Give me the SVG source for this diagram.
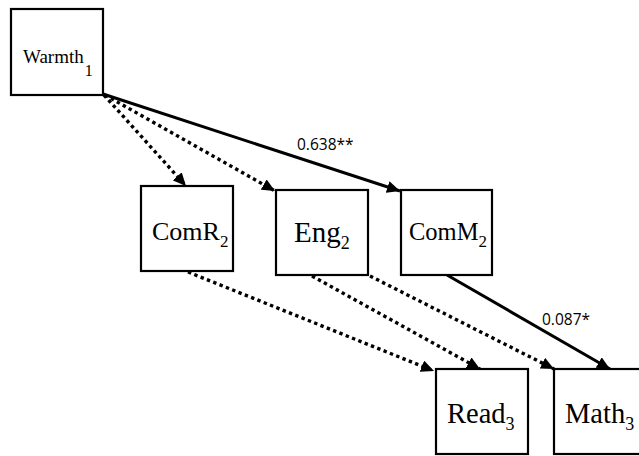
<svg xmlns="http://www.w3.org/2000/svg" width="639" height="456" viewBox="0 0 639 456">
<style>
.box{fill:#fff;stroke:#000;stroke-width:2.2}
.lbl{font-family:"Liberation Serif","Times New Roman",serif;fill:#000}
.num{font-family:"Open Sans","Noto Sans",sans-serif;font-size:15.5px;fill:#000}
.solid{stroke:#000;stroke-width:3;fill:none}
.dot{stroke:#000;stroke-width:3.4;fill:none;stroke-dasharray:3.4 3.4}
</style>
<defs>
<marker id="ah" markerUnits="userSpaceOnUse" markerWidth="13" markerHeight="12" refX="13" refY="6" orient="auto">
<path d="M0,0 L13,6 L0,12 z" fill="#000"/>
</marker>
</defs>
<rect width="639" height="456" fill="#fff"/>
<g id="connectors">
<line class="solid" x1="103" y1="94" x2="400" y2="191" marker-end="url(#ah)"/>
<line class="dot" x1="104" y1="95" x2="186" y2="186" marker-end="url(#ah)"/>
<line class="dot" x1="105" y1="95" x2="275" y2="191" marker-end="url(#ah)"/>
<line class="dot" x1="188" y1="272" x2="434" y2="371" marker-end="url(#ah)"/>
<line class="dot" x1="312" y1="276" x2="480" y2="369" marker-end="url(#ah)"/>
<line class="dot" x1="370" y1="276" x2="554" y2="369" marker-end="url(#ah)"/>
<line class="solid" x1="447" y1="275" x2="610" y2="369" marker-end="url(#ah)"/>
<text class="num" x="297" y="150">0.638**</text>
<text class="num" x="542" y="325">0.087*</text>
</g>
<g id="warmth1">
<rect class="box" x="11" y="9" width="92" height="86"/>
<text class="lbl" x="23" y="63" font-size="19">Warmth<tspan font-size="16" dx="1" dy="13">1</tspan></text>
</g>
<g id="comr2">
<rect class="box" x="141" y="186" width="92" height="85"/>
<text class="lbl" x="152" y="240" font-size="26">ComR<tspan font-size="17" dy="6.5">2</tspan></text>
</g>
<g id="eng2">
<rect class="box" x="276" y="190" width="92" height="85"/>
<text class="lbl" x="294" y="242" font-size="29">Eng<tspan font-size="18" dy="6.5">2</tspan></text>
</g>
<g id="comm2">
<rect class="box" x="401" y="190" width="91" height="85"/>
<text class="lbl" x="409" y="240" font-size="24.5">ComM<tspan font-size="17" dy="6.5">2</tspan></text>
</g>
<g id="read3">
<rect class="box" x="436" y="369" width="92" height="85"/>
<text class="lbl" x="447" y="423" font-size="28.5">Read<tspan font-size="18" dy="7">3</tspan></text>
</g>
<g id="math3">
<rect class="box" x="554" y="369" width="95" height="85"/>
<text class="lbl" x="565" y="423" font-size="28.5">Math<tspan font-size="18" dy="7">3</tspan></text>
</g>
</svg>
